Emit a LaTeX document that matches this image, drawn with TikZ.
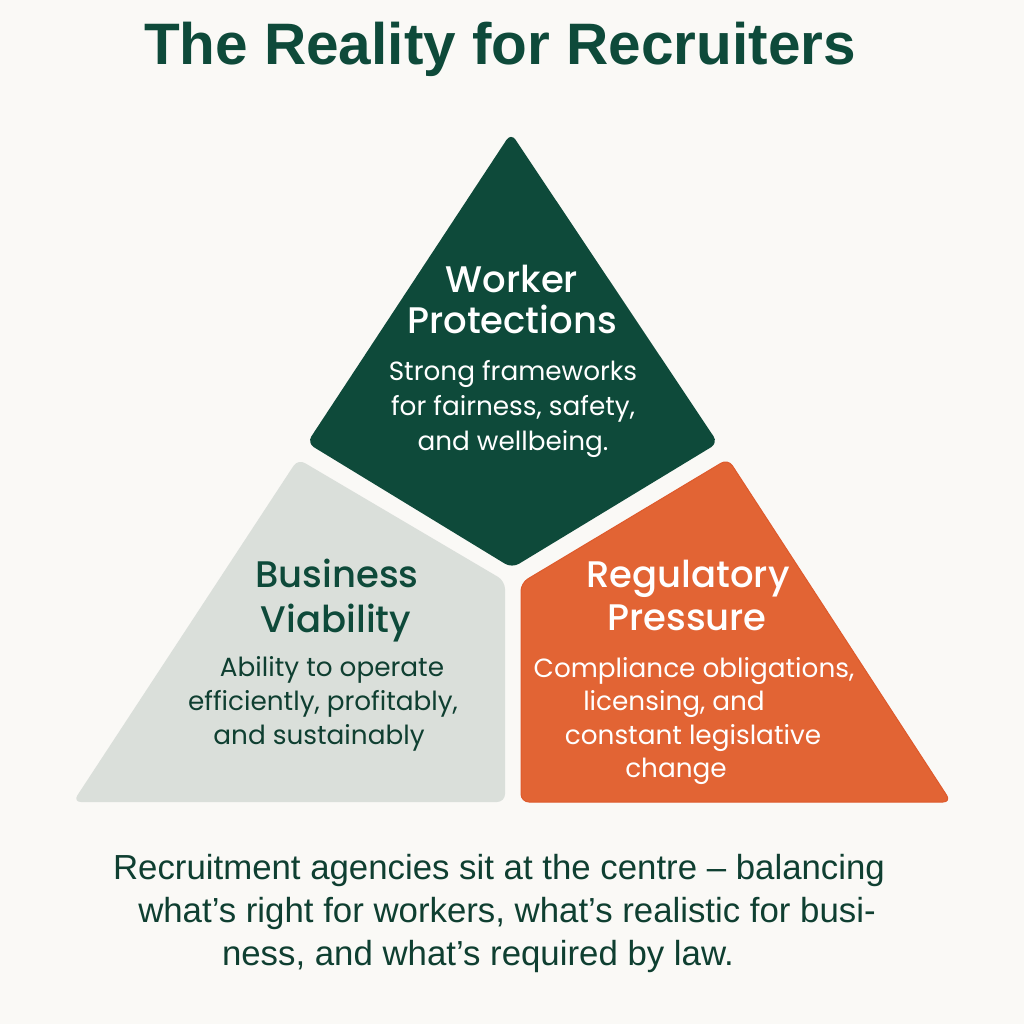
\documentclass[tikz,border=0pt]{standalone}
\usepackage{fontspec}
\setmainfont{Liberation Sans}
\newfontfamily\panelfont{Poppins}
\IfFontExistsTF{Poppins Medium}{\newfontfamily\panelhead{Poppins Medium}}{\newfontfamily\panelhead{Poppins}[FakeBold=0.5]}
\definecolor{bg}{HTML}{FAF9F6}
\definecolor{dgreen}{HTML}{0E4A3A}
\definecolor{sage}{HTML}{DADFDA}
\definecolor{rust}{HTML}{E26434}
\definecolor{rustedge}{HTML}{DE5A2C}
\definecolor{inkgreen}{HTML}{0F3F31}
\tikzset{
  panel/.style={rounded corners=8pt},
  head/.style={anchor=base, inner sep=0pt, font=\panelhead\fontsize{37}{37}\selectfont},
  body/.style={anchor=base, inner sep=0pt, font=\panelfont\fontsize{26.3}{26}\selectfont},
  titletext/.style={anchor=base, inner sep=0pt, text=dgreen, font=\bfseries\fontsize{58.5}{58}\selectfont},
  foot/.style={anchor=base, inner sep=0pt, text=inkgreen, font=\fontsize{34.8}{35}\selectfont},
}
\begin{document}
\begin{tikzpicture}[x=1pt,y=-1pt]
\fill[bg] (0,0) rectangle (1024,1024);
\useasboundingbox (0,0) rectangle (1024,1024);
% title
\node[titletext] (title) at (500,65) {The Reality for Recruiters};
% shapes
\fill[panel, dgreen] (511,133) -- (718,443) -- (512,568) -- (307,443) -- cycle;
\fill[panel, sage] (298,459) -- (505,581) -- (505,802) -- (73,802) -- cycle;
\filldraw[panel, fill=rust, draw=rustedge, line width=1pt] (728,459) -- (951,802) -- (521,802) -- (521,583) -- cycle;
% worker protections
\node[head, text=white] (wp1) at (512,292) {Worker};
\node[head, text=white] (wp2) at (512,333) {Protections};
\node[body, text=white] (wb1) at (513,380) {Strong frameworks};
\node[body, text=white] (wb2) at (513,415) {for fairness, safety,};
\node[body, text=white] (wb3) at (513,450) {and wellbeing.};
% business viability
\node[head, text=dgreen] (bv1) at (337,587) {Business};
\node[head, text=dgreen] (bv2) at (336,632) {Viability};
\node[body, text=inkgreen] (bb1) at (332,676) {Ability to operate};
\node[body, text=inkgreen] (bb2) at (323,710) {efficiently, profitably,};
\node[body, text=inkgreen] (bb3) at (319,744) {and sustainably};
% regulatory pressure
\node[head, text=white] (rp1) at (688,587) {Regulatory};
\node[head, text=white] (rp2) at (687,630) {Pressure};
\node[body, text=white] (rb1) at (694,677) {Compliance obligations,};
\node[body, text=white] (rb2) at (674,710) {licensing, and};
\node[body, text=white] (rb3) at (693,744) {constant legislative};
\node[body, text=white] (rb4) at (676,777) {change};
% footer
\node[foot] (f1) at (499,879) {Recruitment agencies sit at the centre – balancing};
\node[foot] (f2) at (507,922) {what’s right for workers, what’s realistic for busi-};
\node[foot] (f3) at (478,965) {ness, and what’s required by law.};
\end{tikzpicture}
\end{document}
